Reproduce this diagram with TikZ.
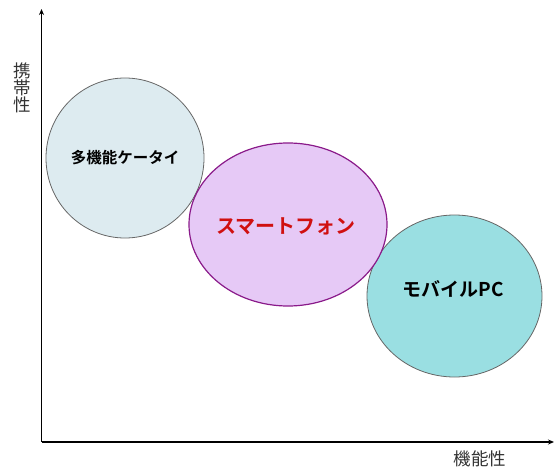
\documentclass[tikz,border=0pt]{standalone}
\usepackage{fontspec}
\newfontfamily\jp{Noto Sans CJK JP}
\newfontfamily\jpb{Noto Sans CJK JP Bold}
\usetikzlibrary{arrows.meta,shapes.geometric}
\definecolor{c1fill}{HTML}{DDEBF0}
\definecolor{c2fill}{HTML}{E6C9F6}
\definecolor{c2line}{HTML}{8A1A8A}
\definecolor{c3fill}{HTML}{9ADFE2}
\definecolor{txtred}{HTML}{D01010}
\tikzset{
  bubble/.style={ellipse, draw=gray!80!black, line width=0.8pt, inner sep=0pt},
  axis/.style={line width=1.2pt, -{Stealth[length=6pt,width=5pt]}},
  axlabel/.style={font=\jp\fontsize{17.5}{18}\selectfont, text=black!80}
}
\begin{document}
\begin{tikzpicture}[x=1pt,y=-1pt]
\useasboundingbox (0,0) rectangle (554,468);
\coordinate (O) at (41.5,442);
\coordinate (Ytop) at (41.5,9);
\coordinate (Xend) at (554,442);
\draw[axis] (O) -- (Ytop);
\draw[axis] (O) -- (Xend);
\node[axlabel, align=center, inner sep=0pt] (ylab) at (22,88) {携\\[-1pt]帯\\[-1pt]性};
\node[axlabel, inner sep=0pt] (xlab) at (480,459) {機能性};
\node[bubble, fill=c1fill, minimum width=158pt, minimum height=160pt] (keitai) at (125,158) {};
\node[font=\jpb\fontsize{15.5}{18}\selectfont] at (keitai.center) {多機能ケータイ};
\node[bubble, fill=c3fill, minimum width=175pt, minimum height=162pt] (pc) at (454.5,296) {};
\node[font=\jpb\fontsize{19}{22}\selectfont] at (453,289) {モバイルPC};
\node[ellipse, draw=c2line, line width=1.2pt, fill=c2fill, inner sep=0pt, minimum width=198pt, minimum height=163pt] (sp) at (288,224.5) {};
\node[font=\jpb\fontsize{20}{22}\selectfont, text=txtred] at (286,226) {スマートフォン};
\end{tikzpicture}
\end{document}
